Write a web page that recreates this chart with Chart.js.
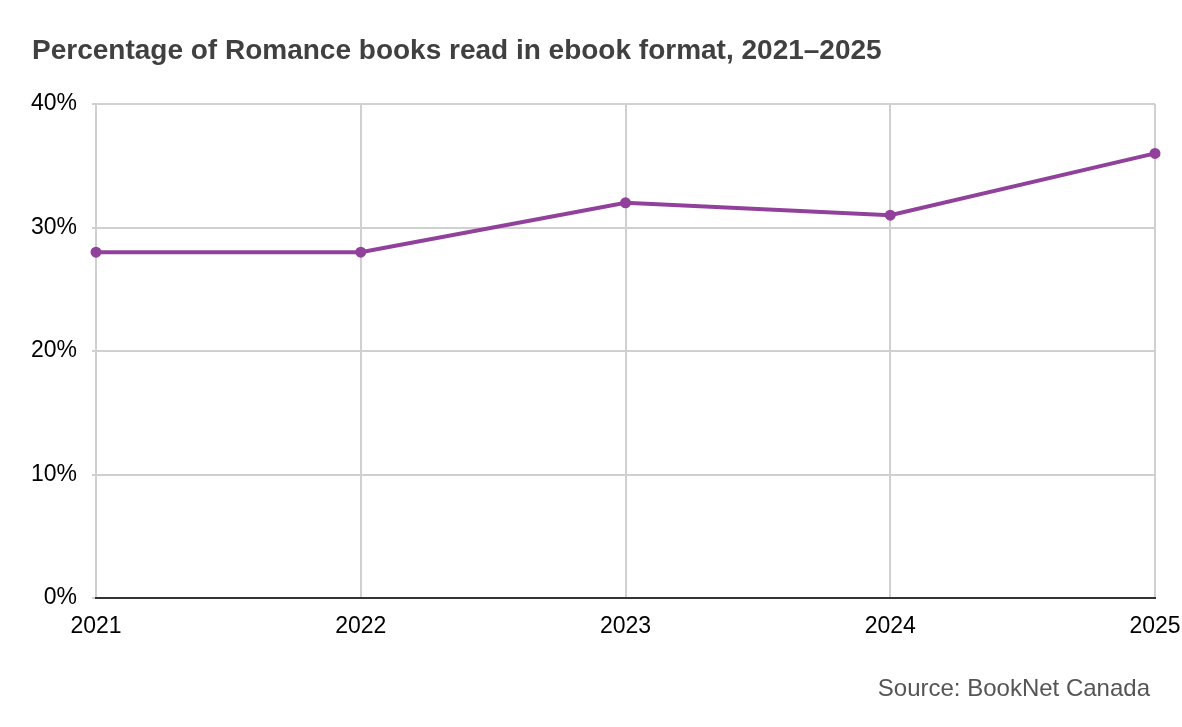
<!DOCTYPE html>
<html>
<head>
<meta charset="utf-8">
<script src="https://cdn.jsdelivr.net/npm/chart.js@4/dist/chart.umd.min.js"></script>
<style>
  html, body { margin: 0; padding: 0; background: #fff; }
  #wrap { position: relative; width: 1182px; height: 727px; font-family: "Liberation Sans", Arial, sans-serif; }
  #title { position: absolute; left: 32px; top: 34px; font-size: 28px; line-height: 32px; font-weight: bold; color: #404040; }
  #source { position: absolute; right: 32px; top: 674px; font-size: 24px; line-height: 28px; color: #555; }
  canvas { position: absolute; left: 0; top: 0; }
</style>
</head>
<body>
<div id="wrap">
  <canvas id="ebookChart" width="1182" height="727"></canvas>
  <div id="title">Percentage of Romance books read in ebook format, 2021–2025</div>
  <div id="source">Source: BookNet Canada</div>
</div>
<script>
const years = ['2021', '2022', '2023', '2024', '2025'];
const ebookShare = [28, 28, 32, 31, 36];
const yTicks = [0, 10, 20, 30, 40];

const ctx = document.getElementById('ebookChart').getContext('2d');

new Chart(ctx, {
    type: 'line',
    data: {
        labels: years,
        datasets: [{
            label: 'Ebook share',
            data: ebookShare,
            borderColor: '#91419b',
            backgroundColor: '#91419b',
            borderWidth: 4,
            pointRadius: 3.5,
            pointHoverRadius: 4,
            tension: 0
        }]
    },
    options: {
        responsive: false,
        animation: false,
        layout: { padding: { left: 0, top: 104, right: 27, bottom: 0 } },
        plugins: {
            legend: { display: false },
            tooltip: { enabled: false }
        },
        scales: {
            x: {
                offset: false,
                grid: { color: '#d0d0d0', lineWidth: 2, drawTicks: false },
                border: { color: '#333', width: 2, z: 1 },
                ticks: {
                    padding: 15,
                    color: '#000',
                    maxRotation: 0,
                    font: { family: 'Liberation Sans', size: 23 }
                },
                afterFit: scale => {
                    scale.height = 129;
                    scale.paddingLeft = 0;
                    scale.paddingRight = 0;
                }
            },
            y: {
                min: yTicks[0],
                max: yTicks[yTicks.length - 1],
                afterBuildTicks: scale => { scale.ticks = yTicks.map(v => ({ value: v })); },
                grid: { color: '#d0d0d0', lineWidth: 2, tickLength: 4 },
                border: { display: false },
                ticks: {
                    padding: 15,
                    color: '#000',
                    font: { family: 'Liberation Sans', size: 23 },
                    callback: v => v + '%'
                },
                afterFit: scale => {
                    scale.width = 96;
                    scale.paddingTop = 0;
                    scale.paddingBottom = 0;
                }
            }
        }
    }
});
</script>
</body>
</html>
